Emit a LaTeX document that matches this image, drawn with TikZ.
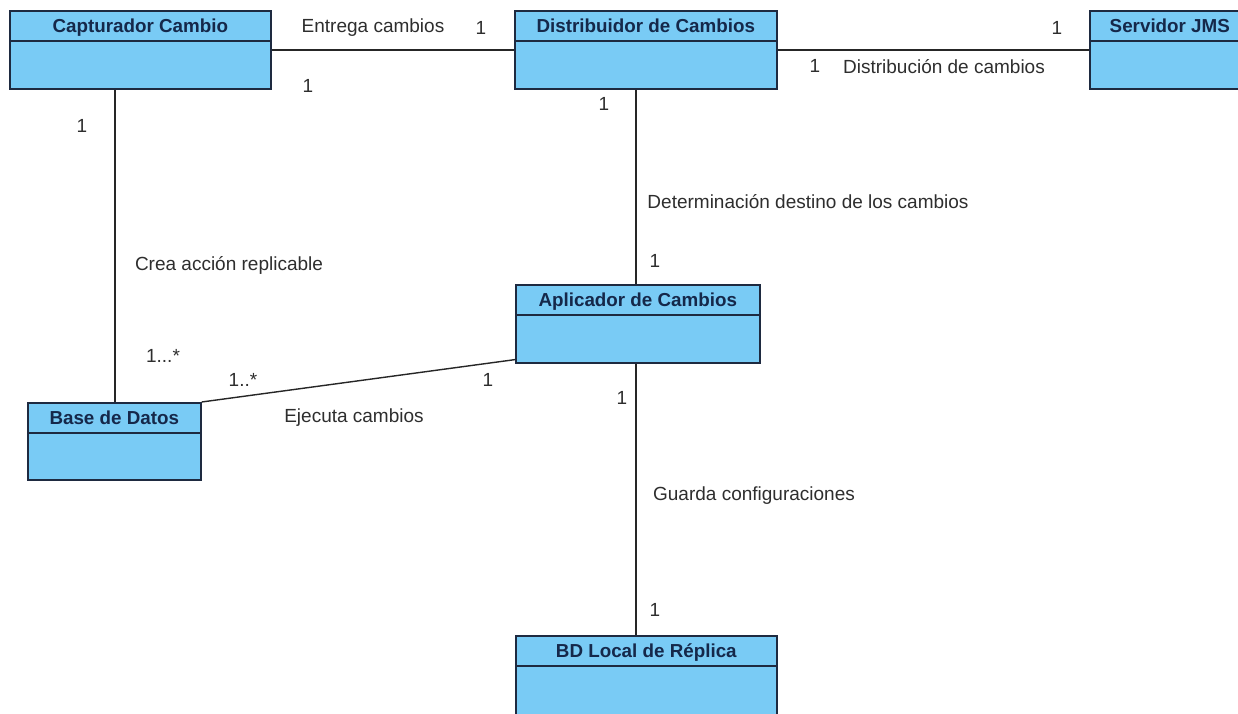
\documentclass[tikz,border=0pt]{standalone}
\usepackage{fontspec}
\setmainfont{Liberation Sans}
\definecolor{clsfill}{HTML}{79CBF5}
\definecolor{clsline}{HTML}{1E2A40}
\definecolor{clstext}{HTML}{15284A}
\definecolor{lbltext}{HTML}{2E2E2E}
\begin{document}
\begin{tikzpicture}[x=1pt,y=-1pt,
  clsbox/.style={draw=clsline, fill=clsfill, line width=1.6pt, rectangle,
    anchor=north west, inner sep=0pt},
  clstitle/.style={text=clstext, font=\fontsize{18.8}{22}\selectfont\bfseries,
    anchor=base, inner sep=0pt},
  assoc/.style={draw=black!85, line width=1.4pt},
  lbl/.style={text=lbltext, font=\fontsize{19}{22}\selectfont, inner sep=0pt}]
\useasboundingbox (0,0) rectangle (1238,713);
\clip (0,0) rectangle (1238,713);
\fill[white] (0,0) rectangle (1238,713);

% class box: name, x, y, width, height, title
\newcommand\umlclass[6]{%
  \node[clsbox, minimum width=#4pt, minimum height=#5pt] (#1) at (#2,#3) {};
  \draw[clsline, line width=1.6pt] ([yshift=-31pt]#1.north west) -- ([yshift=-31pt]#1.north east);
  \node[clstitle] (#1-t) at ([yshift=-22pt]#1.north) {#6};
}

\umlclass{cap}{9}{10}{261}{78}{Capturador Cambio}
\umlclass{dist}{514}{10}{262}{78}{Distribuidor de Cambios}
\umlclass{srv}{1089}{10}{160}{78}{Servidor JMS}
\umlclass{base}{27}{402}{173}{77}{Base de Datos}
\umlclass{apl}{515}{284}{244}{78}{Aplicador de Cambios}
\umlclass{loc}{515}{635}{261}{90}{BD Local de Réplica}

% associations
\draw[assoc] (cap.east) -- (dist.west);
\draw[assoc] (dist.east) -- (srv.west);
\draw[assoc] (base.north -| 115,0) -- (cap.south -| 115,0);
\draw[assoc] (apl.north -| 636,0) -- (dist.south -| 636,0);
\draw[assoc] (base.north east) -- ([yshift=4pt]apl.south west);
\draw[assoc] (apl.south -| 636,0) -- (loc.north -| 636,0);

% roles and multiplicities
\node[lbl] (l1) at (373,28) {Entrega cambios};
\node[lbl] (m1) at (481,28) {1};
\node[lbl] (m2) at (308,86) {1};
\node[lbl] (m3) at (1057,28) {1};
\node[lbl] (m4) at (815,66) {1};
\node[lbl] (l2) at (944,67) {Distribución de cambios};
\node[lbl] (m5) at (604,104) {1};
\node[lbl] (m6) at (82,126) {1};
\node[lbl] (l3) at (808,202) {Determinación destino de los cambios};
\node[lbl] (m7) at (655,261) {1};
\node[lbl] (l4) at (229,265) {Crea acción replicable};
\node[lbl] (m8) at (163,356) {1...*};
\node[lbl] (m9) at (243,380) {1..*};
\node[lbl] (m10) at (488,380) {1};
\node[lbl] (l5) at (354,418) {Ejecuta cambios};
\node[lbl] (m11) at (622,398) {1};
\node[lbl] (l6) at (754,496) {Guarda configuraciones};
\node[lbl] (m12) at (655,610) {1};
\end{tikzpicture}
\end{document}
